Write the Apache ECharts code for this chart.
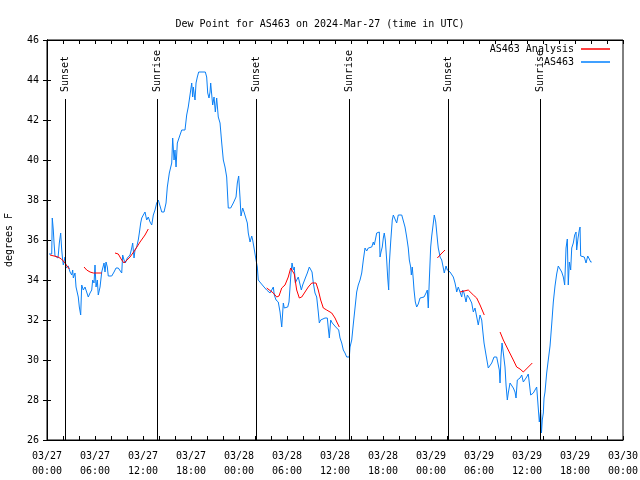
<!DOCTYPE html>
<html><head><meta charset="utf-8">
<script src="https://cdn.jsdelivr.net/npm/echarts@6/dist/echarts.min.js"></script>
<style>html,body{margin:0;padding:0;background:#fff}#c{width:640px;height:480px}</style>
</head><body><div id="c"></div>
<script>
// Hours since 2024-03-27 00:00 UTC
const blueHours = [0.25,0.59,0.66,0.79,0.88,1.0,1.21,1.38,1.54,1.71,1.84,1.96,2.04,2.25,2.38,2.66,2.88,3.09,3.21,3.29,3.5,3.63,3.79,3.91,4.04,4.21,4.34,4.54,4.75,4.96,5.16,5.38,5.59,5.71,5.88,6.0,6.13,6.29,6.41,6.63,6.84,7.0,7.13,7.25,7.38,7.54,7.66,8.09,8.38,8.63,8.91,9.13,9.34,9.46,9.63,9.79,10.04,10.38,10.59,10.71,10.88,11.0,11.21,11.41,11.54,11.71,11.84,12.04,12.25,12.46,12.66,12.88,13.09,13.29,13.5,13.71,13.91,14.13,14.34,14.63,14.88,15.04,15.29,15.59,15.71,15.88,16.0,16.13,16.29,16.54,16.84,17.25,17.46,17.66,17.88,18.09,18.21,18.29,18.5,18.63,18.79,18.96,19.79,19.96,20.09,20.25,20.38,20.46,20.56,20.71,20.88,21.04,21.21,21.41,21.63,21.84,22.04,22.25,22.46,22.66,22.96,23.29,23.63,23.79,23.96,24.13,24.25,24.46,24.63,24.88,25.04,25.16,25.38,25.59,25.71,25.88,26.13,26.29,26.41,26.71,27.13,27.46,27.88,28.09,28.29,28.41,28.63,28.91,29.13,29.34,29.54,29.66,29.88,30.09,30.25,30.38,30.5,30.63,30.79,30.91,31.04,31.21,31.41,31.63,31.79,31.96,32.13,32.34,32.54,32.79,33.0,33.13,33.29,33.5,33.71,33.91,34.04,34.21,34.46,34.75,35.04,35.16,35.29,35.46,35.66,35.88,36.09,36.29,36.46,36.63,36.84,37.04,37.25,37.46,37.79,37.88,38.09,38.29,38.5,38.71,38.91,39.13,39.34,39.54,39.75,39.96,40.16,40.38,40.59,40.79,40.91,41.04,41.21,41.54,41.63,41.75,41.91,42.04,42.16,42.29,42.46,42.59,42.71,42.79,42.96,43.16,43.29,43.5,43.71,43.91,44.34,44.54,44.75,44.96,45.16,45.29,45.46,45.54,45.66,45.79,45.88,46.04,46.21,46.41,46.63,46.88,47.13,47.25,47.38,47.54,47.66,47.79,47.96,48.09,48.21,48.29,48.41,48.59,48.71,48.84,48.91,49.04,49.13,49.34,49.54,49.66,49.88,50.04,50.16,50.38,50.59,50.79,51.0,51.13,51.21,51.41,51.63,51.84,51.96,52.13,52.38,52.54,52.79,53.09,53.29,53.5,53.71,53.91,54.13,54.34,54.46,54.63,54.88,55.16,55.38,55.59,55.88,56.21,56.41,56.54,56.63,56.75,56.88,57.04,57.25,57.38,57.54,57.66,57.88,58.09,58.29,58.5,58.63,58.79,58.96,59.13,59.34,59.54,59.75,59.96,60.16,60.29,60.46,60.79,61.0,61.21,61.41,61.54,61.71,61.81,61.91,62.04,62.13,62.25,62.46,62.66,62.88,63.09,63.29,63.5,63.71,63.91,64.13,64.34,64.54,64.71,64.88,65.04,65.16,65.29,65.46,65.59,65.79,65.96,66.13,66.21,66.38,66.54,66.63,66.71,66.96,67.16,67.38,67.59,67.79,67.96,68.09];
const blueValues = [35.3,35.3,37.1,36.5,35.85,35.2,35.25,35.1,35.85,36.35,35.5,35.0,34.75,35.15,34.6,34.7,34.4,34.25,34.5,34.1,34.35,33.65,33.6,33.15,32.65,32.25,33.75,33.5,33.65,33.6,33.15,33.35,33.5,34.0,33.85,34.75,33.65,34.0,33.25,33.65,34.4,34.4,34.85,34.4,34.9,34.65,34.2,34.2,34.4,34.6,34.6,34.5,34.35,35.25,35.0,34.85,35.1,35.25,35.6,35.85,35.1,35.5,35.65,36.0,36.35,36.85,37.1,37.25,37.4,37.0,37.15,36.9,36.75,37.25,37.5,37.85,38.0,37.7,37.4,37.4,37.85,38.65,39.35,39.85,41.1,40.0,40.5,39.65,40.85,41.15,41.5,41.5,42.25,42.65,42.75,43.85,43.15,43.65,43.0,43.85,44.15,44.4,44.4,44.15,43.35,43.1,43.4,43.85,43.4,42.75,43.15,42.4,43.1,42.15,41.85,40.85,40.0,39.65,39.15,37.6,37.6,37.85,38.15,38.85,39.2,38.1,37.2,37.6,37.4,37.3,36.85,36.35,35.9,36.2,36.0,35.6,35.0,34.65,34.0,33.85,33.65,33.5,33.35,33.4,33.65,33.25,33.0,32.9,32.4,31.65,32.85,32.6,32.65,32.65,32.9,33.65,34.35,34.85,34.5,34.65,33.85,34.0,34.15,34.15,33.5,33.75,33.85,34.15,34.35,34.65,34.75,34.4,33.85,33.35,33.15,32.4,31.85,32.0,32.1,32.1,32.1,31.6,31.1,32.0,31.85,31.85,31.65,31.65,31.5,31.1,30.85,30.5,30.35,30.15,30.15,30.65,31.0,31.8,32.6,33.4,33.75,34.0,34.35,35.0,35.6,35.45,35.6,35.65,35.65,35.9,35.75,36.0,36.35,36.4,35.15,35.4,35.65,36.1,36.35,36.0,35.0,34.1,33.5,34.8,35.9,37.0,37.25,37.2,36.85,37.25,37.25,37.15,36.65,36.15,35.6,35.0,34.65,34.25,34.65,34.0,33.5,32.9,32.65,32.8,33.1,33.15,33.15,33.15,33.35,33.5,32.6,34.0,35.65,36.2,36.25,36.85,37.25,36.9,36.4,35.85,35.6,35.35,35.15,35.0,34.6,34.35,34.7,34.5,34.5,34.4,34.35,34.15,33.85,33.6,33.4,33.65,33.75,33.15,33.5,33.35,32.9,33.25,33.1,32.85,32.4,32.6,32.65,31.75,32.25,32.0,31.5,30.85,30.25,29.6,29.65,29.85,30.15,30.15,30.1,29.5,28.85,30.15,30.85,30.35,29.65,28.75,28.0,28.35,28.85,28.8,28.6,28.4,28.1,29.0,29.1,29.1,29.25,28.9,29.0,29.15,29.3,28.85,28.25,28.35,28.5,28.65,28.65,26.9,27.5,26.35,27.0,27.35,28.1,28.4,29.35,30.0,30.7,31.8,32.9,33.7,34.3,34.7,34.6,34.4,34.15,33.75,35.6,36.05,33.75,34.9,34.5,35.6,35.85,36.25,36.4,35.5,36.1,36.5,36.65,35.2,35.2,35.15,34.85,35.2,35.05,34.9,34.9];

// Analysis series (null = gap between segments)
const redHours = [0.38,0.88,1.38,1.81,2.25,2.5,2.79,3.5,
  4.63,4.96,5.38,5.79,6.84,7.5,
  8.5,8.91,9.34,9.63,9.88,10.38,11.0,11.63,12.25,12.66,20.0,
  27.46,28.29,28.71,29.0,29.34,29.75,30.16,30.46,30.71,30.91,31.21,31.54,31.84,32.25,32.66,33.09,33.63,33.91,34.21,34.54,34.96,35.59,36.0,36.29,36.54,42.0,
  48.79,49.25,49.75,50.5,
  51.63,52.66,53.29,53.71,54.13,54.66,55.5,
  56.63,57.04,57.66,58.29,58.71,59.13,59.54,60.04,60.66];
const redValues = [35.25,35.2,35.15,35.05,34.85,34.7,34.55,null,
  34.65,34.5,34.4,34.35,34.35,null,
  35.35,35.3,35.0,34.85,34.9,35.15,35.5,35.9,36.25,36.55,null,
  33.6,33.35,33.15,33.2,33.6,33.75,34.15,34.6,34.65,34.3,33.5,33.1,33.15,33.4,33.65,33.85,33.85,33.5,33.0,32.6,32.5,32.35,32.1,31.85,31.65,null,
  35.1,35.3,35.5,null,
  33.4,33.5,33.25,33.1,32.75,32.25,null,
  31.4,31.0,30.5,30.0,29.65,29.55,29.4,29.6,29.85];

const sunEvents = ['Sunset','Sunrise','Sunset','Sunrise','Sunset','Sunrise'];
const sunHours = [2.25,13.75,26.12,37.75,50.12,61.62];

const yTicks = {min:26, max:46, interval:2};
const xTicks = {min:0, max:72, interval:6};
const dayLabels = ['03/27','03/28','03/29','03/30'];

const FONT = 'DejaVu Sans Mono';
const blueData = blueHours.map((h,i)=>[h, blueValues[i]]);
const redData = redHours.map((h,i)=>[h, redValues[i]]);

const markData = [];
sunHours.forEach((h,i)=>{
  markData.push([{coord:[h,26]},{coord:[h,43.05]}]);
  markData.push([{coord:[h,43.4], name:sunEvents[i], lineStyle:{color:'rgba(0,0,0,0)', width:0},
                  label:{show:true, position:'insideStart', formatter:'{b}', distance:0,
                         color:'#000', fontFamily:FONT, fontSize:10}},
                 {coord:[h,46]}]);
});

function fmtX(v){
  const d = Math.floor(v/24), hh = v - d*24;
  return dayLabels[d] + '\n' + String(hh).padStart(2,'0') + ':00';
}

const axisCommon = {
  type:'value', min:xTicks.min, max:xTicks.max, interval:xTicks.interval,
  axisLine:{show:true, lineStyle:{color:'#000', width:1}},
  axisTick:{show:true, inside:true, length:4, lineStyle:{color:'#000'}},
  minorTick:{show:true, splitNumber:3, length:4, lineStyle:{color:'#000'}},
  splitLine:{show:false}
};
const yCommon = {
  type:'value', min:yTicks.min, max:yTicks.max, interval:yTicks.interval,
  axisLine:{show:true, lineStyle:{color:'#000', width:1}},
  axisTick:{show:true, inside:true, length:4, lineStyle:{color:'#000'}},
  splitLine:{show:false}
};

const chart = echarts.init(document.getElementById('c'), null, {renderer:'canvas'});
chart.setOption({
  animation:false,
  backgroundColor:'#fff',
  textStyle:{fontFamily:FONT},
  title:{text:'Dew Point for AS463 on 2024-Mar-27 (time in UTC)', left:'center', top:14,
         textStyle:{fontFamily:FONT, fontSize:10, fontWeight:'normal', color:'#000'}},
  grid:{left:47, right:17, top:40, bottom:40, containLabel:false, outerBoundsMode:'none',
        show:true, borderColor:'#000', borderWidth:1, backgroundColor:'transparent'},
  legend:[
    {data:['AS463 Analysis'], right:30, top:44, orient:'vertical', align:'right', padding:0,
     itemWidth:29, itemHeight:1.5, icon:'rect', itemGap:4,
     textStyle:{fontFamily:FONT, fontSize:10, color:'#000', padding:[0,2,0,0]}},
    {data:['AS463'], right:30, top:57, orient:'vertical', align:'right', padding:0,
     itemWidth:29, itemHeight:1.5, icon:'rect', itemGap:4,
     textStyle:{fontFamily:FONT, fontSize:10, color:'#000', padding:[0,2,0,0]}}
  ],
  xAxis:[
    Object.assign({}, axisCommon, {position:'bottom',
      axisLabel:{formatter:fmtX, color:'#000', fontFamily:FONT, fontSize:10, lineHeight:15, margin:9}}),
    Object.assign({}, axisCommon, {position:'top', axisLabel:{show:false}})
  ],
  yAxis:[
    Object.assign({}, yCommon, {position:'left', name:'degrees F', nameLocation:'middle', nameGap:33,
      nameTextStyle:{fontFamily:FONT, fontSize:10, color:'#000'},
      axisLabel:{color:'#000', fontFamily:FONT, fontSize:10, margin:8}}),
    Object.assign({}, yCommon, {position:'right', axisLabel:{show:false}})
  ],
  series:[
    {name:'AS463 Analysis', type:'line', data:redData, showSymbol:false, symbol:'none', connectNulls:false,
     color:'#ff0000', lineStyle:{color:'#ff0000', width:1}, z:3},
    {name:'AS463', type:'line', data:blueData, showSymbol:false, symbol:'none',
     color:'#0080ff', lineStyle:{color:'#0a7ff5', width:1}, z:2,
     markLine:{silent:true, symbol:['none','none'], animation:false,
       lineStyle:{color:'#000', width:1, type:'solid'}, label:{show:false},
       data:markData}}
  ]
});
</script>
</body></html>
